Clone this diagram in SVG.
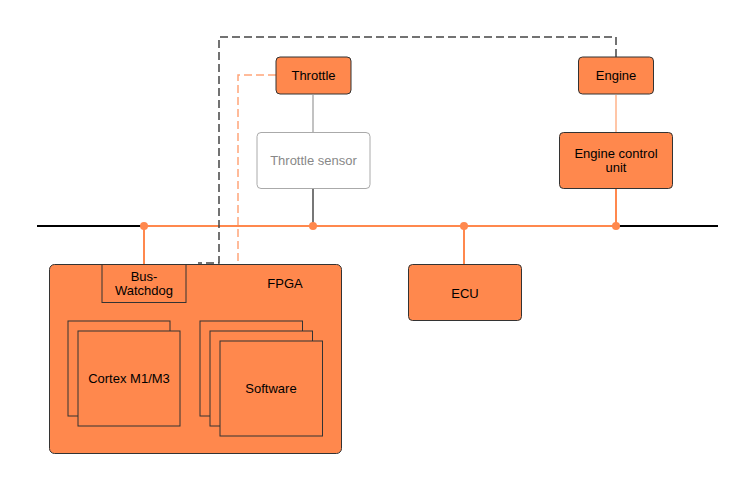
<svg xmlns="http://www.w3.org/2000/svg" width="755" height="491" viewBox="0 0 755 491">
<style>
text{font-family:"Liberation Sans",Arial,sans-serif;font-size:13px;fill:#000;text-anchor:middle}
.n{fill:#FF884D;stroke:#333;stroke-width:1}
.sq{fill:#FF884D;stroke:#333;stroke-width:1}
.bus{stroke:#FF884D;stroke-width:2;fill:none}
.blk{stroke:#000;stroke-width:2;fill:none}
.dot{fill:#FF884D}
</style>
<rect width="755" height="491" fill="#fff"/>
<g id="connectors">
<line class="blk" x1="37" y1="226" x2="144" y2="226"/>
<line class="blk" x1="616" y1="226" x2="718" y2="226"/>
<line class="bus" x1="144" y1="226" x2="616" y2="226"/>
<line class="bus" x1="144" y1="226" x2="144" y2="264"/>
<line class="bus" x1="464" y1="226" x2="464" y2="264"/>
<line class="bus" x1="616" y1="189" x2="616" y2="226"/>
<line stroke="#FFB38A" stroke-width="1.5" x1="616" y1="95" x2="616" y2="132"/>
<line stroke="#999" stroke-width="1.2" x1="313" y1="95" x2="313" y2="132"/>
<line stroke="#777" stroke-width="2" x1="313" y1="189" x2="313" y2="226"/>
<polyline fill="none" stroke="#FFA57A" stroke-width="1.5" stroke-dasharray="8,4" points="276,75 238,75 238,264"/>
<polyline fill="none" stroke="#444" stroke-width="1.5" stroke-dasharray="8,4" points="616,57 616,37 219,37 219,263 198,263"/>
<circle class="dot" cx="144" cy="226" r="4"/>
<circle class="dot" cx="313" cy="226" r="4"/>
<circle class="dot" cx="464" cy="226" r="4"/>
<circle class="dot" cx="616" cy="226" r="4"/>
</g>
<g id="throttle">
<rect class="n" x="276" y="57" width="75" height="37" rx="4"/>
<text x="313.5" y="79.5">Throttle</text>
</g>
<g id="throttle-sensor">
<rect x="257" y="132.5" width="113" height="56" rx="4" fill="#fff" stroke="#aaa" stroke-width="1"/>
<text x="313.5" y="164.5" style="fill:#888">Throttle sensor</text>
</g>
<g id="engine">
<rect class="n" x="578.5" y="57" width="75" height="37" rx="4"/>
<text x="616" y="79.5">Engine</text>
</g>
<g id="engine-control-unit">
<rect class="n" x="559.5" y="132.5" width="113" height="56" rx="4"/>
<text x="616" y="157.5">Engine control</text>
<text x="616" y="172">unit</text>
</g>
<g id="ecu">
<rect class="n" x="408.5" y="264.5" width="113" height="56" rx="4"/>
<text x="465" y="297.5">ECU</text>
</g>
<g id="fpga">
<rect class="n" x="49.5" y="264.5" width="292" height="189" rx="5"/>
<text x="285" y="288">FPGA</text>
</g>
<g id="bus-watchdog">
<rect class="sq" x="102" y="264.5" width="84" height="38"/>
<text x="144" y="281">Bus-</text>
<text x="144" y="295">Watchdog</text>
</g>
<g id="cortex">
<rect class="sq" x="68" y="321" width="102" height="95"/>
<rect class="sq" x="78" y="331" width="102" height="95"/>
<text x="129" y="382.5">Cortex M1/M3</text>
</g>
<g id="software">
<rect class="sq" x="200" y="321" width="102.5" height="95"/>
<rect class="sq" x="210" y="331" width="102.5" height="95"/>
<rect class="sq" x="220" y="341" width="102.5" height="95"/>
<text x="271" y="392.5">Software</text>
</g>
</svg>
